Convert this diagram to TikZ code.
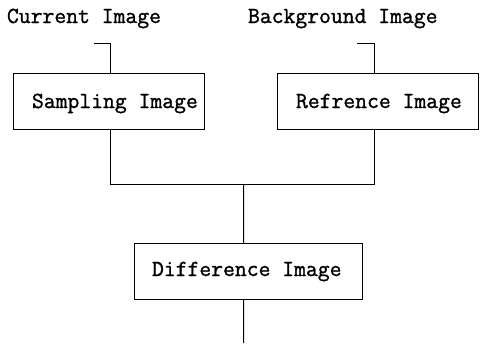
\documentclass[tikz,border=0pt]{standalone}
\usepackage{fontspec}
\setmonofont{Latin Modern Mono}[FakeBold=1.2]
\usetikzlibrary{calc}
\begin{document}
\begin{tikzpicture}[x=1bp,y=-1bp,
  line width=1bp,
  boxnode/.style={draw=black, rectangle, inner sep=0pt, minimum height=56bp},
  txt/.style={inner sep=0pt, anchor=base west, font=\fontsize{23bp}{26bp}\ttfamily}]
\useasboundingbox (0,0) rectangle (480,346);
% titles
\node[txt] (curt) at (6.5,23) {Current Image};
\node[txt] (bgt) at (247.5,23) {Background Image};
% boxes
\node[boxnode, minimum width=191bp] (samp) at (109,101.5) {};
\node[boxnode, minimum width=201bp] (ref) at (378,101.5) {};
\node[boxnode, minimum width=228bp] (diff) at (248.5,271.5) {};
% box texts
\node[txt] (sampt) at (31.5,108) {Sampling Image};
\node[txt] (reft) at (295.5,108) {Refrence Image};
\node[txt] (difft) at (151.5,276) {Difference Image};
% connector coordinates
\coordinate (c1) at (94,43.5);
\coordinate (c2) at (357,43.5);
\coordinate (j) at (243.5,184.5);
\coordinate (out) at (243.5,343);
% connectors
\draw (c1) -| ([xshift=1.5bp]samp.north);
\draw (c2) -| ([xshift=-3.5bp]ref.north);
\draw ([xshift=1.5bp]samp.south) |- (j) -| ([xshift=-3.5bp]ref.south);
\draw (j) -- ([xshift=-5bp]diff.north);
\draw ([xshift=-5bp]diff.south) -- (out);
\end{tikzpicture}
\end{document}
